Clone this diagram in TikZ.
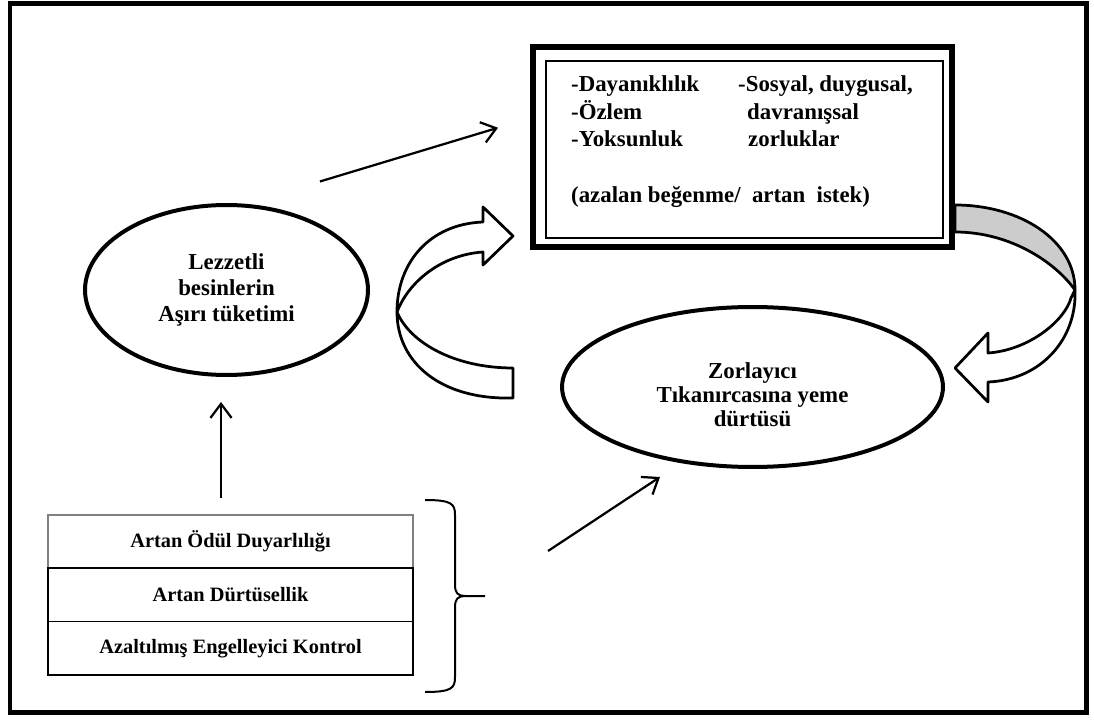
\documentclass[tikz,border=0pt]{standalone}
\usepackage{fontspec}
\setmainfont{Liberation Serif}[BoldFont={Liberation Serif Bold}]
\usetikzlibrary{positioning,shapes.geometric,arrows.meta}

\begin{document}
\begin{tikzpicture}[x=0.02cm,y=-0.02cm,
        yazi/.style={font=\fontsize{11.6}{14}\selectfont\bfseries},
        buyuk/.style={font=\fontsize{13}{14.7}\selectfont\bfseries},
        oval/.style={ellipse,draw,line width=0.08cm,align=center,inner sep=0pt,buyuk},
        katman/.style={rectangle,draw,line width=0.03cm,minimum width=7.3cm,minimum height=1.07cm,outer sep=0pt,yazi},
        ok/.style={line width=0.045cm,-{Straight Barb[length=8pt,width=12pt]}},
        blok/.style={draw,line width=0.055cm,fill=white,line join=round}]

        % frame
        \useasboundingbox (0,0) rectangle (1094,722);
        \draw[line width=0.1cm] (10,4) rectangle (1086,712);

        % curved arrow left
        \draw[blok] (513,398) .. controls (440,400) and (397,362) .. (397,312)
            .. controls (410,343) and (455,368) .. (513,368) -- cycle;
        \draw[blok] (397,312) .. controls (397,262) and (430,224) .. (483,222)
            -- (483,207) -- (513,236) -- (483,265) -- (483,252)
            .. controls (440,255) and (408,283) .. (397,312) -- cycle;

        % curved arrow right
        \draw[blok,fill=gray!40] (955,205) .. controls (1020,205) and (1075,240) .. (1075,290)
            .. controls (1055,262) and (1010,232) .. (955,232) -- cycle;
        \draw[blok] (1075,290) .. controls (1077,340) and (1040,380) .. (988,382)
            -- (988,402) -- (955,368) -- (988,333) -- (988,353)
            .. controls (1030,350) and (1065,320) .. (1071,298) -- cycle;

        % top box
        \node[draw,line width=0.12cm,minimum width=8.38cm,minimum height=4.01cm,outer sep=0pt] (kutu) at (742.5,146.75) {};
        \draw[line width=0.025cm] ([shift={(13,14.5)}]kutu.north west) rectangle ([shift={(-9,-9)}]kutu.south east);
        \node[buyuk,anchor=base west] (dayan) at (565,92) {-Dayanıklılık};
        \node[buyuk,anchor=base west] (ozlem) at (565,120) {-Özlem};
        \node[buyuk,anchor=base west] (yoksun) at (565,147) {-Yoksunluk};
        \node[buyuk,anchor=base west] (sosyal) at (732,92) {-Sosyal, duygusal,};
        \node[buyuk,anchor=base west] (davran) at (741,120) {davranışsal};
        \node[buyuk,anchor=base west] (zorluk) at (742,147) {zorluklar};
        \node[buyuk,anchor=base west] (istek) at (565,203) {(azalan beğenme/~~artan~~istek)};

        % ellipses
        \node[oval,minimum width=5.66cm,minimum height=3.4cm] (lez) at (226.5,290) {Lezzetli\\besinlerin\\Aşırı tüketimi};
        \node[oval,minimum width=7.62cm,minimum height=3.2cm,font=\fontsize{13}{13.5}\selectfont\bfseries] (zor) at (752.5,387) {\rule{0pt}{18pt}Zorlayıcı\\Tıkanırcasına yeme\\dürtüsü};

        % bottom boxes
        \node[katman,draw=gray] (odul) at (230.5,541.5) {Artan Ödül Duyarlılığı};
        \node[katman,below=0pt of odul] (durtu) {Artan Dürtüsellik};
        \node[katman,below=0pt of durtu] (kontrol) {Azaltılmış Engelleyici Kontrol};

        % brace
        \coordinate (uc) at (485,596);
        \draw[line width=0.04cm] (425,500) .. controls (452,500) and (455,504) .. (455,515) -- (455,585)
            .. controls (455,593) and (458,596) .. (465,596) -- (uc);
        \draw[line width=0.04cm] (425,692) .. controls (452,692) and (455,688) .. (455,677) -- (455,607)
            .. controls (455,599) and (458,596) .. (465,596);

        % arrows
        \draw[ok] ([shift={(-8,-47)}]lez.north east) -- ([shift={(-35,-19)}]kutu.west);
        \draw[ok] ([shift={(-9.5,-17)}]odul.north) -- ([shift={(-5.5,25)}]lez.south);
        \draw[ok] ([shift={(63,-45)}]uc) -- ([shift={(-92.5,8)}]zor.south);
\end{tikzpicture}
\end{document}
